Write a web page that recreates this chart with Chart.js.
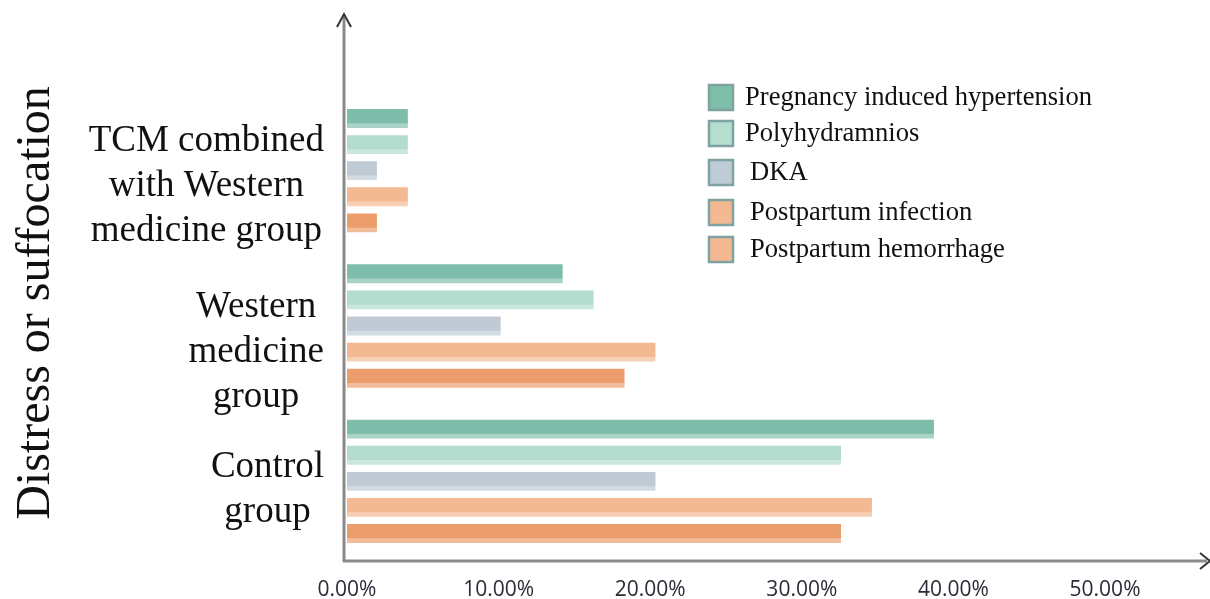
<!DOCTYPE html>
<html>
<head>
<meta charset="utf-8">
<script src="https://cdn.jsdelivr.net/npm/chart.js@4"></script>
<style>
  body { margin: 0; background: #fff; }
  #chart-div { width: 1210px; height: 599px; }
</style>
</head>
<body>
<div id="chart-div"><canvas id="chart-canvas"></canvas></div>
<script>
const categories = [
  ["TCM combined", "with Western", "medicine group"],
  ["Western", "medicine", "group"],
  ["Control", "group"]
];
const seriesNames = [
  "Pregnancy induced hypertension",
  "Polyhydramnios",
  "DKA",
  "Postpartum infection",
  "Postpartum hemorrhage"
];
const pregnancyHypertension = [4.08, 14.29, 38.78];
const polyhydramnios = [4.08, 16.33, 32.65];
const dka = [2.04, 10.2, 20.41];
const postpartumInfection = [4.08, 20.41, 34.69];
const postpartumHemorrhage = [2.04, 18.37, 32.65];
const xTickValues = [0, 10, 20, 30, 40, 50];
const axisTitle = "Distress or suffocation";

const barColors = ["#7fbdab", "#b3dccf", "#bfcad4", "#f2b993", "#ec9d6c"];
const legendColors = ["#7dbfa9", "#b4dfcf", "#bfcbd6", "#f4b992", "#f4b992"];
const serif = "'Liberation Serif', 'Times New Roman', serif";

const chartCanvas = document.getElementById("chart-canvas");

// axes with arrows, category labels, y title and legend are drawn here
const decorations = {
  id: "decorations",
  afterDatasetsDraw(chart) {
    const ctx = chart.ctx;

    // lighter strip at the bottom of each bar
    chart.data.datasets.forEach((ds, i) => {
      chart.getDatasetMeta(i).data.forEach((bar) => {
        const p = bar.getProps(["x", "y", "base", "height"], true);
        const h = p.height;
        ctx.fillStyle = "rgba(255,255,255,0.32)";
        ctx.fillRect(p.base, p.y + h / 2 - h * 0.27, p.x - p.base, h * 0.27);
      });
    });
  },
  afterDraw(chart) {
    const ctx = chart.ctx;
    const area = chart.chartArea;
    const yScale = chart.scales.y;
    const ax = area.left - 3;
    const ay = area.bottom + 2;

    ctx.save();
    ctx.strokeStyle = "#8a8a8a";
    ctx.lineWidth = 3;
    ctx.beginPath();
    ctx.moveTo(ax, ay + 1);
    ctx.lineTo(ax, 16);
    ctx.moveTo(ax - 1, ay);
    ctx.lineTo(1207, ay);
    ctx.stroke();

    ctx.strokeStyle = "#333";
    ctx.lineWidth = 2;
    ctx.beginPath();
    ctx.moveTo(ax - 7, 27);
    ctx.lineTo(ax, 14);
    ctx.lineTo(ax + 7, 27);
    ctx.moveTo(1200, ay - 8);
    ctx.lineTo(1210, ay);
    ctx.lineTo(1200, ay + 8);
    ctx.stroke();

    // category labels: blocks right aligned, lines centred in the block
    ctx.fillStyle = "#111";
    ctx.font = "37px " + serif;
    ctx.textAlign = "center";
    ctx.textBaseline = "middle";
    const blockRight = 324;
    const lineH = 45;
    const shifts = [20, 30, 12];
    categories.forEach((lines, i) => {
      const w = Math.max(...lines.map((l) => ctx.measureText(l).width));
      const cx = blockRight - w / 2;
      const cy = yScale.getPixelForTick(i) + shifts[i];
      lines.forEach((l, j) => {
        ctx.fillText(l, cx, cy + (j - (lines.length - 1) / 2) * lineH - 4);
      });
    });

    // rotated y title
    ctx.save();
    ctx.translate(49, (area.top + area.bottom) / 2 - 23);
    ctx.rotate(-Math.PI / 2);
    ctx.font = "48px " + serif;
    ctx.textAlign = "center";
    ctx.textBaseline = "alphabetic";
    ctx.fillText(axisTitle, 0, 0);
    ctx.restore();

    // legend
    ctx.font = "26.6px " + serif;
    ctx.textAlign = "left";
    ctx.textBaseline = "middle";
    const rowY = [97, 133, 172, 212, 249];
    seriesNames.forEach((name, i) => {
      const cy = rowY[i];
      ctx.fillStyle = legendColors[i];
      ctx.fillRect(709, cy - 12, 24, 25);
      ctx.strokeStyle = "#7fa3a0";
      ctx.lineWidth = 2.5;
      ctx.strokeRect(709, cy - 12, 24, 25);
      ctx.fillStyle = "#111";
      ctx.fillText(name, i < 2 ? 745 : 750, cy + 1);
    });
    ctx.restore();
  }
};

const seriesData = [
  pregnancyHypertension,
  polyhydramnios,
  dka,
  postpartumInfection,
  postpartumHemorrhage
];

const chart = new Chart(chartCanvas, {
  type: "bar",
  data: {
    labels: categories,
    datasets: seriesNames.map((name, i) => ({
      label: name,
      data: seriesData[i],
      backgroundColor: barColors[i],
      borderColor: "rgba(255,255,255,0.85)",
      borderWidth: 1,
      categoryPercentage: 0.84,
      barPercentage: 0.8
    }))
  },
  options: {
    indexAxis: "y",
    responsive: true,
    maintainAspectRatio: false,
    animation: false,
    layout: { padding: { left: 347, right: 14, top: 93, bottom: 0 } },
    plugins: {
      legend: { display: false },
      tooltip: { enabled: false }
    },
    scales: {
      x: {
        min: 0,
        max: 56,
        grid: { display: false },
        border: { display: false },
        afterFit(scale) { scale.height = 40; },
        ticks: {
          stepSize: 10,
          includeBounds: false,
          padding: 13,
          color: "#2b2b38",
          font: { family: "'Open Sans', sans-serif", size: 21, lineHeight: 1 },
          callback: (v) => (xTickValues.includes(v) ? v.toFixed(2) + "%" : null)
        }
      },
      y: {
        grid: { display: false },
        border: { display: false },
        ticks: { display: false },
        afterFit(scale) { scale.width = 0; }
      }
    }
  },
  plugins: [decorations]
});
</script>
</body>
</html>
